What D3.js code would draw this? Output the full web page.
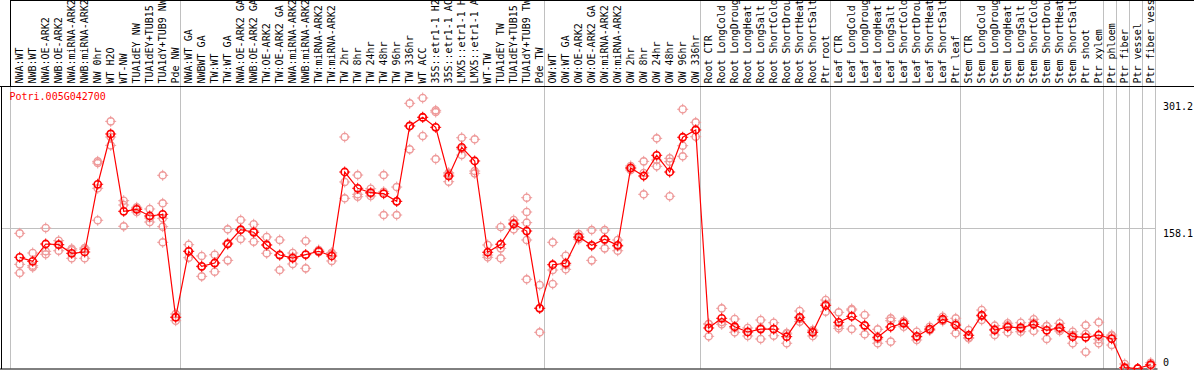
<!DOCTYPE html>
<html>
<head>
<meta charset="utf-8">
<script src="https://cdn.jsdelivr.net/npm/d3@7"></script>
<style>
  body { margin: 0; background: #fff; }
  svg { display: block; font-family: "DejaVu Sans Mono", monospace; font-size: 10px; }
</style>
</head>
<body>
<div id="chart"></div>
<script>
// chart size
const width = 1194;
const height = 370;

// sample names (one per column)
const samples = [
  "NWA:WT", "NWB:WT", "NWA:OE-ARK2", "NWB:OE-ARK2", "NWA:miRNA-ARK2", "NWB:miRNA-ARK2", "NW 0hr", "WT H2O", "WT-NW",
  "TUA1dEY NW", "TUA1dEY+TUB15 NW", "TUA1dY+TUB9 NW", "Pde NW",
  "NWA:WT GA", "NWBWT GA", "TW:WT", "TW:WT GA", "NWA:OE-ARK2 GA", "NWB:OE-ARK2 GA", "TW:OE-ARK2", "TW:OE-ARK2 GA",
  "NWA:miRNA-ARK2 GA", "NWB:miRNA-ARK2 GA", "TW:miRNA-ARK2", "TW:miRNA-ARK2 GA", "TW 2hr", "TW 8hr", "TW 24hr", "TW 48hr",
  "TW 96hr", "TW 336hr", "WT ACC", "35S::etr1-1 H2O", "35S::etr1-1 ACC", "LMX5::etr1-1 H2O", "LMX5::etr1-1 ACC", "WT-TW",
  "TUA1dEY TW", "TUA1dEY+TUB15 TW", "TUA1dY+TUB9 TW", "Pde TW",
  "OW:WT", "OW:WT GA", "OW:OE-ARK2", "OW:OE-ARK2 GA", "OW:miRNA-ARK2", "OW:miRNA-ARK2 GA", "OW 2hr", "OW 8hr", "OW 24hr",
  "OW 48hr", "OW 96hr", "OW 336hr",
  "Root CTR", "Root LongCold", "Root LongDrought", "Root LongHeat", "Root LongSalt", "Root ShortCold", "Root ShortDrought",
  "Root ShortHeat", "Root ShortSalt", "Ptr root",
  "Leaf CTR", "Leaf LongCold", "Leaf LongDrought", "Leaf LongHeat", "Leaf LongSalt", "Leaf ShortCold", "Leaf ShortDrought",
  "Leaf ShortHeat", "Leaf ShortSalt", "Ptr leaf",
  "Stem CTR", "Stem LongCold", "Stem LongDrought", "Stem LongHeat", "Stem LongSalt", "Stem ShortCold", "Stem ShortDrought",
  "Stem ShortHeat", "Stem ShortSalt", "Ptr shoot", "Ptr xylem",
  "Ptr phloem", "Ptr fiber", "Ptr vessel", "Ptr fiber vessel"
];

// number of columns in each block (separator lines between blocks)
const groupSizes = [13, 28, 12, 10, 10, 11, 1, 1, 1, 1];

// mean expression per sample
const means = [
  125.1, 120.6, 140.1, 139.3, 129.6, 131.1, 207.3, 263.9, 176.9, 179.1, 171.6, 173.5, 57.6,
  131.9, 115.0, 118.7, 140.1, 156.2, 153.3, 139.0, 127.7, 124.3, 128.1, 131.9, 126.6, 221.1, 202.8, 197.8, 196.7,
  188.1, 272.9, 282.7, 271.4, 216.6, 248.9, 233.5, 130.8, 139.8, 162.6, 154.7, 67.7,
  116.8, 118.4, 148.0, 138.6, 145.4, 138.6, 225.6, 216.6, 239.9, 221.1, 260.2, 268.4,
  45.6, 56.5, 47.0, 41.1, 44.4, 44.4, 35.8, 57.6, 40.7, 71.1,
  52.0, 58.7, 48.6, 35.1, 46.7, 50.9, 36.2, 44.4, 55.4, 48.9,
  37.4, 59.9, 43.3, 46.7, 45.9, 49.7, 43.0, 45.9, 35.8, 35.1, 37.7,
  33.5, 0.9, 0, 4.3
];

// replicate values per sample
const replicates = [
  [152.1, 117.2, 107.5], [130.0, 115.7, 113.9], [158.1, 131.9, 128.5], [143.8, 132.5, 139.3], [134.8, 133.3, 124.0],
  [135.6, 134.1, 124.0], [233.1, 231.2, 202.8, 166.8], [278.1, 260.5, 251.1], [188.8, 184.0, 160.0], [181.4, 180.3, 176.1],
  [179.5, 169.3, 164.8], [217.4, 185.9, 169.0, 159.6, 142.0], [61.3, 53.8, 57.9],
  [139.3, 124.7, 131.9], [126.6, 103.7, 114.5], [128.0, 108.9, 118.7], [156.6, 121.7, 141.2], [167.1, 145.7, 155.8],
  [162.3, 142.7, 154.7], [148.0, 129.6, 139.0], [144.6, 110.8, 127.7], [130.0, 117.6, 125.5], [143.5, 112.7, 127.7],
  [133.3, 131.1, 131.1], [130.3, 121.0, 128.8], [260.5, 209.9, 191.5], [217.7, 196.0, 193.3], [202.3, 194.1, 197.1],
  [217.7, 198.9, 172.7], [204.2, 172.7, 188.1], [298.4, 246.6, 272.9], [304.4, 261.6, 282.6], [290.5, 288.6, 235.7],
  [220.3, 210.2, 218.9], [259.7, 240.2, 247.0], [257.9, 222.2, 219.6], [139.0, 125.1, 127.7], [159.2, 135.2, 124.0],
  [167.1, 156.6, 163.7], [192.2, 176.1, 164.1, 144.6, 100.4], [94.0, 40.7, 68.1],
  [142.0, 110.8, 95.1], [126.9, 111.6, 116.5], [151.3, 145.4, 147.2], [155.8, 121.7, 137.8], [155.8, 135.2, 144.6],
  [144.6, 132.5, 137.3], [225.6, 223.4, 227.9], [233.1, 196.0, 220.0], [259.0, 227.5, 234.6], [236.5, 232.7, 193.8],
  [291.7, 250.7, 238.8], [277.0, 260.8, 268.4],
  [50.1, 36.2, 50.1], [67.7, 49.7, 52.3], [55.7, 40.7, 45.6], [45.6, 36.6, 41.1], [54.6, 33.2, 45.6],
  [51.5, 36.9, 44.4], [38.8, 28.4, 39.9], [64.7, 52.7, 55.7], [42.2, 36.6, 43.3], [77.1, 63.9, 72.6],
  [63.2, 45.2, 47.8], [67.0, 44.4, 65.8], [60.2, 38.5, 47.8], [44.1, 28.4, 33.2], [56.5, 53.8, 30.2],
  [52.7, 47.0, 53.4], [41.4, 32.1, 35.4], [47.0, 43.3, 43.0], [58.3, 54.6, 53.4], [56.5, 39.6, 50.9],
  [43.3, 34.0, 34.7], [65.8, 54.6, 59.1], [48.2, 37.7, 44.1], [50.9, 40.7, 48.6], [51.5, 41.4, 44.4],
  [55.4, 42.2, 51.5], [47.8, 33.2, 47.8], [50.9, 44.1, 42.2], [41.4, 28.4, 37.7], [48.6, 18.6, 38.8], [52.0, 28.4, 32.9],
  [36.6, 26.4, 37.7], [5.1, 0, 0], [0, 0, 0], [6.5, 2.8, 3.9]
];

// right axis ticks
const yTicks = [0, 158.1, 301.2];
const geneName = "Potri.005G042700";

const headerBottom = 86.5;
const plotBottom = 368.5;

const svg = d3.select("#chart")
  .append("svg")
  .attr("width", width)
  .attr("height", height);

// x: one band per sample
const x = d3.scaleBand()
  .domain(d3.range(samples.length))
  .range([13.2, 13.2 + 13 * samples.length])
  .padding(0);
const cx = i => x(i) + x.bandwidth() / 2;

// y: linear, 158.1 sits on the grid line
const y = d3.scaleLinear()
  .domain([0, 158.1])
  .range([368.5, 228]);

const crisp = v => Math.floor(v) + 0.5;

// separator positions: before first column and after the end of each block
let seps = [crisp(x(0) - 2.5)];
let acc = 0;
groupSizes.forEach(n => {
  acc += n;
  seps.push(crisp(x(acc - 1) + x.bandwidth() - 1.5));
});

// vertical grid lines through header and plot
svg.append("g")
  .selectAll("line")
  .data(seps)
  .enter()
  .append("line")
  .attr("x1", d => d).attr("x2", d => d)
  .attr("y1", (d, i) => i === 0 ? headerBottom : 0)
  .attr("y2", plotBottom)
  .attr("stroke", "#c0c0c0")
  .attr("stroke-width", 1);

// header left edge is black
svg.append("line")
  .attr("x1", seps[0]).attr("x2", seps[0])
  .attr("y1", 0).attr("y2", headerBottom)
  .attr("stroke", "#000");

// horizontal grid line at middle tick
svg.append("line")
  .attr("x1", 2).attr("x2", seps[seps.length - 1])
  .attr("y1", crisp(y(158.1))).attr("y2", crisp(y(158.1)))
  .attr("stroke", "#c0c0c0");

// frame lines
svg.append("line")
  .attr("x1", 0).attr("x2", width)
  .attr("y1", headerBottom).attr("y2", headerBottom)
  .attr("stroke", "#000");
svg.append("line")
  .attr("x1", seps[0]).attr("x2", width)
  .attr("y1", 0.5).attr("y2", 0.5)
  .attr("stroke", "#000");
svg.append("line")
  .attr("x1", 1.5).attr("x2", 1.5)
  .attr("y1", headerBottom).attr("y2", plotBottom + 0.5)
  .attr("stroke", "#000");
svg.append("line")
  .attr("x1", 0).attr("x2", seps[seps.length - 1] + 2)
  .attr("y1", plotBottom + 0.5).attr("y2", plotBottom + 0.5)
  .attr("stroke", "#000");

// rotated sample labels
svg.append("g")
  .selectAll("text")
  .data(samples)
  .enter()
  .append("text")
  .attr("transform", (d, i) => `translate(${cx(i) + 3.5},83.5) rotate(-90)`)
  .attr("fill", "#000")
  .text(d => d);

// gene title
svg.append("text")
  .attr("x", 9.5)
  .attr("y", 100)
  .attr("fill", "#ff0000")
  .text(geneName);

// right axis labels
svg.append("g")
  .selectAll("text")
  .data(yTicks)
  .enter()
  .append("text")
  .attr("x", 1163)
  .attr("y", d => Math.min(y(d) + 9, 366))
  .attr("fill", "#000")
  .text(d => d);

// marker: circle with tiny ticks
const tickPath = "M0,-5.5V-2.5M0,2.5V5.5M-5.5,0H-2.5M2.5,0H5.5";

function marker(g, color, sw) {
  g.append("circle").attr("r", 3.6).attr("fill", "none").attr("stroke", color).attr("stroke-width", sw);
  g.append("path").attr("d", tickPath).attr("stroke", color).attr("stroke-width", 1);
}

// replicate points
const repData = [];
replicates.forEach((arr, i) => arr.forEach(v => repData.push({ i: i, v: v })));

svg.append("g")
  .selectAll("g")
  .data(repData)
  .enter()
  .append("g")
  .attr("transform", d => `translate(${cx(d.i)},${y(d.v)})`)
  .each(function () { marker(d3.select(this), "#ee9a9a", 1.4); });

// mean line
const line = d3.line()
  .x((d, i) => cx(i))
  .y(d => y(d));

svg.append("path")
  .datum(means)
  .attr("d", line)
  .attr("fill", "none")
  .attr("stroke", "#ff0000")
  .attr("stroke-width", 1.2);

// mean points
svg.append("g")
  .selectAll("g")
  .data(means)
  .enter()
  .append("g")
  .attr("transform", (d, i) => `translate(${cx(i)},${y(d)})`)
  .each(function () { marker(d3.select(this), "#ff0000", 1.6); });
</script>
</body>
</html>
